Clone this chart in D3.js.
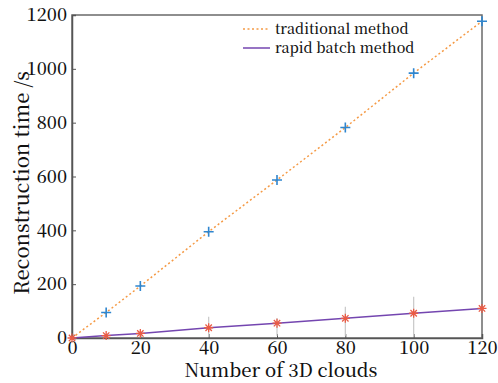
<!DOCTYPE html>
<html>
<head>
<meta charset="utf-8">
<script src="https://cdn.jsdelivr.net/npm/d3@7"></script>
<style>
  body { margin: 0; background: #fff; }
</style>
</head>
<body>
<svg id="chart" width="498" height="383"></svg>
<script>
const clouds = [0, 10, 20, 40, 60, 80, 100, 120];
const traditional = [0, 95, 193, 395, 587, 782, 984, 1177];
const rapid = [0, 9, 17, 38, 55, 73, 92, 110];
// faint spread bars on the rapid method
const rapidLow = [0, 2, 5, 5, 8, 8, 8, 110];
const rapidHigh = [0, 14, 26, 79, 74, 116, 153, 110];
const xTicks = [0, 20, 40, 60, 80, 100, 120];
const yTicks = [0, 200, 400, 600, 800, 1000, 1200];

const margin = { top: 15, right: 16, bottom: 45, left: 72 };
const width = 498 - margin.left - margin.right;
const height = 383 - margin.top - margin.bottom;
const serif = '"Noto Serif CJK SC", "Liberation Serif", serif';

const svg = d3.select('#chart');
const g = svg.append('g').attr('transform', `translate(${margin.left},${margin.top})`);

const x = d3.scaleLinear().domain([0, 120]).range([0, width]);
const y = d3.scaleLinear().domain([0, 1200]).range([height, 0]);

// frame
g.append('rect')
  .attr('width', width).attr('height', height)
  .attr('fill', 'none').attr('stroke', '#6a6a6a').attr('stroke-width', 1.5);

const xAxis = g.append('g')
  .attr('transform', `translate(0,${height})`)
  .call(d3.axisBottom(x).tickValues(xTicks).tickFormat(d3.format('d')).tickSize(-4).tickPadding(3));
const yAxis = g.append('g')
  .call(d3.axisLeft(y).tickValues(yTicks).tickFormat(d3.format('d')).tickSize(-4).tickPadding(5));

[xAxis, yAxis].forEach((a) => {
  a.select('.domain').attr('stroke', '#555').attr('stroke-width', 1.5);
  a.selectAll('.tick line').attr('stroke', '#555');
  a.selectAll('.tick text')
    .style('font-family', serif).style('font-size', '18px').style('font-weight', 500)
    .attr('fill', '#111');
});

svg.append('text')
  .attr('x', 281).attr('y', 377)
  .attr('text-anchor', 'middle')
  .style('font-family', serif).style('font-size', '18.5px').style('font-weight', 500)
  .attr('fill', '#111')
  .text('Number of 3D clouds');

svg.append('text')
  .attr('transform', 'translate(29,183) rotate(-90)')
  .attr('text-anchor', 'middle')
  .style('font-family', serif).style('font-size', '20px').style('font-weight', 500)
  .attr('fill', '#111')
  .text('Reconstruction time /s');

// spread bars
const bars = clouds.map((c, i) => ({ c, lo: rapidLow[i], hi: rapidHigh[i] }))
  .filter((d) => d.hi > d.lo);
g.selectAll('.spread').data(bars).enter().append('line')
  .attr('x1', (d) => x(d.c)).attr('x2', (d) => x(d.c))
  .attr('y1', (d) => y(d.lo)).attr('y2', (d) => y(d.hi))
  .attr('stroke', '#c8c8c8').attr('stroke-width', 1.2);

const line = d3.line()
  .x((d) => x(d[0]))
  .y((d) => y(d[1]));

g.append('path')
  .datum(clouds.map((c, i) => [c, traditional[i]]))
  .attr('fill', 'none').attr('stroke', '#f59a45')
  .attr('stroke-width', 1.5).attr('stroke-dasharray', '2,2.5')
  .attr('d', line);

g.append('path')
  .datum(clouds.map((c, i) => [c, rapid[i]]))
  .attr('fill', 'none').attr('stroke', '#7446b0')
  .attr('stroke-width', 1.5)
  .attr('d', line);

// plus markers
const plus = clouds.map((c, i) => [c, traditional[i]]).filter((d) => d[0] > 0);
g.selectAll('.plus').data(plus).enter().append('path')
  .attr('transform', (d) => `translate(${x(d[0])},${y(d[1])})`)
  .attr('d', 'M-5,0H5M0,-5V5')
  .attr('stroke', '#2f86cf').attr('stroke-width', 1.6).attr('fill', 'none');

// asterisk markers
const star = 'M-4.5,0H4.5M0,-4.5V4.5M-3.2,-3.2L3.2,3.2M-3.2,3.2L3.2,-3.2';
g.selectAll('.star').data(clouds.map((c, i) => [c, rapid[i]])).enter().append('path')
  .attr('transform', (d) => `translate(${x(d[0])},${y(d[1])})`)
  .attr('d', star)
  .attr('stroke', '#ea5b45').attr('stroke-width', 1.3).attr('fill', 'none');

// legend
const legend = svg.append('g').attr('transform', 'translate(243,29)');
legend.append('line').attr('x1', 0).attr('x2', 27).attr('y1', 0).attr('y2', 0)
  .attr('stroke', '#f59a45').attr('stroke-width', 1.5).attr('stroke-dasharray', '2,2.5');
legend.append('text').attr('x', 32).attr('y', 5)
  .style('font-family', serif).style('font-size', '14.3px').style('font-weight', 500)
  .attr('fill', '#111')
  .text('traditional method');
legend.append('line').attr('x1', 0).attr('x2', 27).attr('y1', 19).attr('y2', 19)
  .attr('stroke', '#7446b0').attr('stroke-width', 1.5);
legend.append('text').attr('x', 32).attr('y', 24)
  .style('font-family', serif).style('font-size', '14.3px').style('font-weight', 500)
  .attr('fill', '#111')
  .text('rapid batch method');
</script>
</body>
</html>
